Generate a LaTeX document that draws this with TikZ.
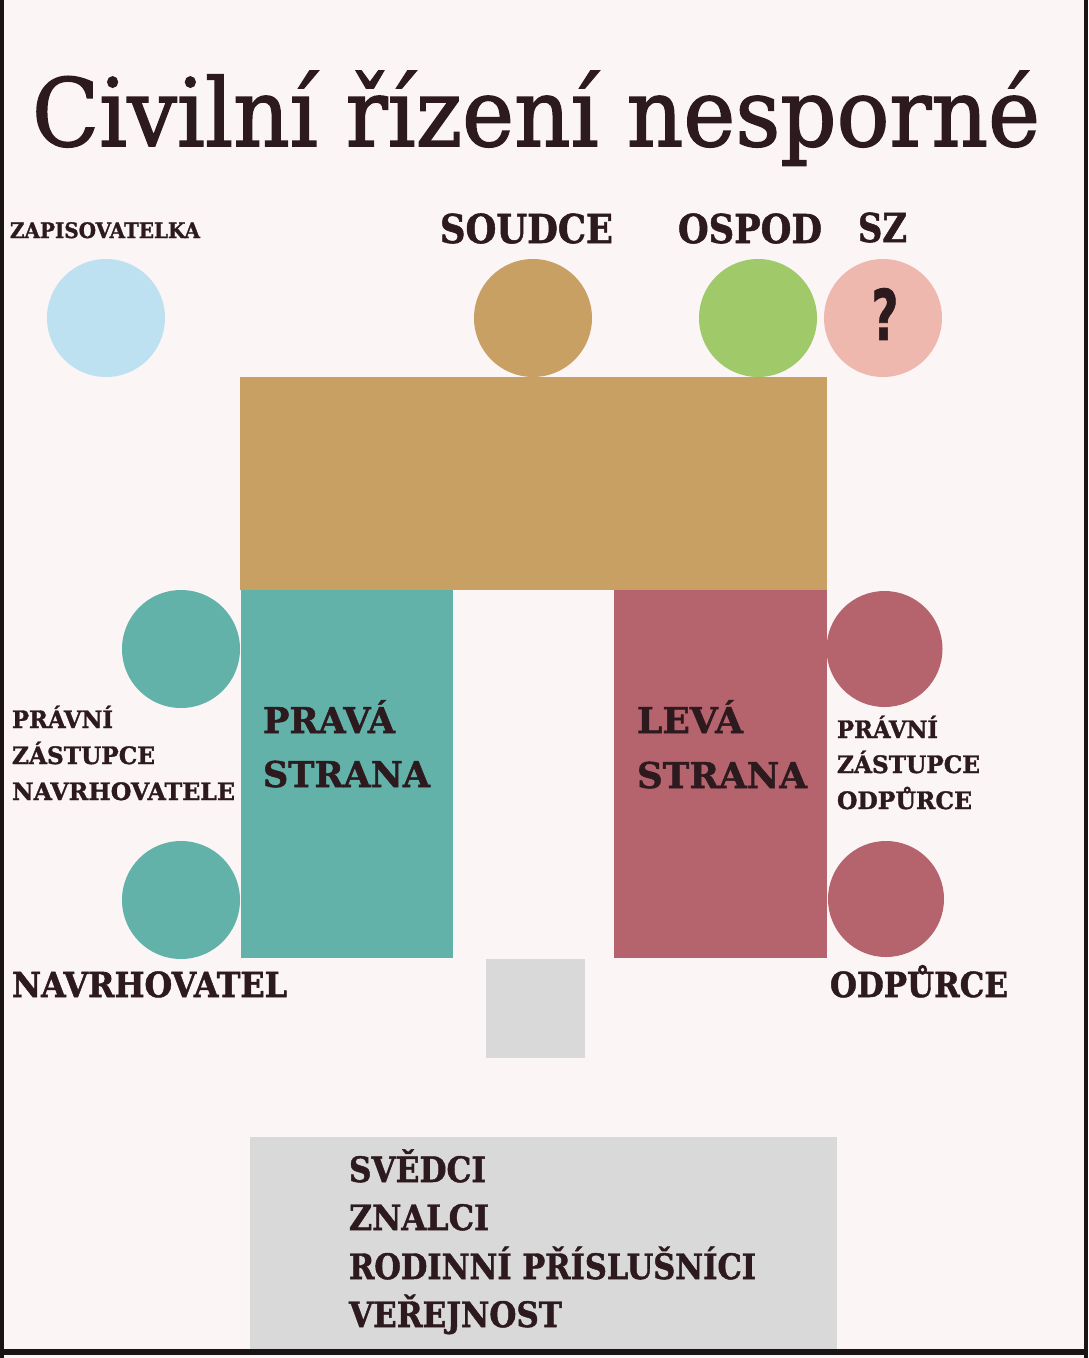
\documentclass[tikz,border=0pt]{standalone}
\usepackage{fontspec}
\setmainfont{DejaVu Serif}
\newfontfamily\titlefont[FakeBold=1.6]{DejaVu Serif}
\newfontfamily\labfont[FakeBold=1.4]{DejaVu Serif Bold}
\newfontfamily\qfont[FakeBold=1]{DejaVu Sans Bold}
\usepackage{graphicx}
\definecolor{bg}{HTML}{FBF5F6}
\definecolor{ink}{HTML}{2D1A1F}
\definecolor{lblue}{HTML}{BDE1F0}
\definecolor{tan}{HTML}{C8A064}
\definecolor{lgreen}{HTML}{A0C96A}
\definecolor{lpink}{HTML}{EFB8AE}
\definecolor{teal2}{HTML}{62B2A9}
\definecolor{wine}{HTML}{B5636C}
\definecolor{lgray}{HTML}{D9D9D9}
\definecolor{edgeink}{HTML}{1A1416}
\newcommand{\fitw}[2]{\resizebox{#1}{\height}{#2}}
\begin{document}
\begin{tikzpicture}[x=1pt,y=-1pt,
  seat/.style={circle, inner sep=0pt, outer sep=0pt, minimum size=118pt},
  block/.style={rectangle, inner sep=0pt, outer sep=0pt, anchor=north west},
  lbl/.style={anchor=base west, inner sep=0pt, outer sep=0pt, text=ink},
  tinylbl/.style={lbl, font=\labfont\fontsize{21.3}{26}\selectfont},
  smalllbl/.style={lbl, font=\labfont\fontsize{24}{30}\selectfont},
  midlbl/.style={lbl, font=\labfont\fontsize{39.8}{48}\selectfont},
  sidelbl/.style={lbl, font=\labfont\fontsize{35.5}{48}\selectfont},
  namelbl/.style={lbl, font=\labfont\fontsize{34.5}{42}\selectfont},
  listlbl/.style={lbl, font=\labfont\fontsize{35}{42}\selectfont}]
\useasboundingbox (0,0) rectangle (1088,1358);
\fill[bg] (0,0) rectangle (1088,1358);

% title
\node[lbl, font=\titlefont\fontsize{94}{110}\selectfont] (title) at (32,146) {\fitw{1008pt}{Civilní řízení nesporné}};

% top seats
\node[seat, fill=lblue] (zap) at (106,318) {};
\node[seat, fill=tan] (soudce) at (533,318) {};
\node[seat, fill=lgreen] (ospod) at (758,318) {};
\node[seat, fill=lpink] (sz) at (883,318) {};
\node[inner sep=0pt, text=ink, font=\qfont\fontsize{70}{70}\selectfont] (q) at (885,314) {\fitw{27pt}{?}};

% tables
\node[block, fill=tan, minimum width=587pt, minimum height=213pt] (stul) at (240,377) {};
\node[block, fill=teal2, minimum width=212pt, minimum height=368pt] (prava) at (241,590) {};
\node[block, fill=wine, minimum width=213pt, minimum height=368pt] (leva) at (614,590) {};
\node[block, fill=lgray, minimum width=99pt, minimum height=99pt] (pult) at (486,959) {};
\node[block, fill=lgray, minimum width=587pt, minimum height=213pt] (verejnost) at (250,1137) {};

% side seats
\node[seat, fill=teal2] (zastN) at (181,649) {};
\node[seat, fill=teal2] (navrh) at (181,900) {};
\node[seat, fill=wine, minimum size=116pt] (zastO) at (884.5,649) {};
\node[seat, fill=wine, minimum size=116pt] (odp) at (886,899) {};

% labels top
\node[tinylbl] (tZap) at (10,238) {\fitw{190pt}{ZAPISOVATELKA}};
\node[midlbl] (tSoudce) at (440,243) {\fitw{173pt}{SOUDCE}};
\node[midlbl] (tOspod) at (678,243) {\fitw{144pt}{OSPOD}};
\node[midlbl] (tSz) at (858,242) {\fitw{49pt}{SZ}};

% left labels
\node[smalllbl] (tPl1) at (12,728) {\fitw{101pt}{PRÁVNÍ}};
\node[smalllbl] (tPl2) at (12,764) {\fitw{143pt}{ZÁSTUPCE}};
\node[smalllbl] (tPl3) at (12,800) {\fitw{223pt}{NAVRHOVATELE}};
\node[sidelbl] (tPr1) at (263,733) {\fitw{132pt}{PRAVÁ}};
\node[sidelbl] (tPr2) at (263,787) {\fitw{167pt}{STRANA}};
\node[namelbl] (tNavrh) at (12,997) {\fitw{275pt}{NAVRHOVATEL}};

% right labels
\node[sidelbl] (tLe1) at (637,733) {\fitw{106pt}{LEVÁ}};
\node[sidelbl] (tLe2) at (637,788) {\fitw{170pt}{STRANA}};
\node[smalllbl] (tPo1) at (837,738) {\fitw{101pt}{PRÁVNÍ}};
\node[smalllbl] (tPo2) at (837,773) {\fitw{143pt}{ZÁSTUPCE}};
\node[smalllbl] (tPo3) at (837,809) {\fitw{135pt}{ODPŮRCE}};
\node[namelbl] (tOdp) at (830,997) {\fitw{178pt}{ODPŮRCE}};

% list
\node[listlbl] (l1) at (349,1182) {\fitw{137pt}{SVĚDCI}};
\node[listlbl] (l2) at (349,1230) {\fitw{140pt}{ZNALCI}};
\node[listlbl] (l3) at (349,1279) {\fitw{407pt}{RODINNÍ PŘÍSLUŠNÍCI}};
\node[listlbl] (l4) at (349,1327) {\fitw{213pt}{VEŘEJNOST}};

% frame
\fill[edgeink] (0,0) rectangle (4,1358);
\fill[edgeink] (1084,0) rectangle (1088,1358);
\fill[edgeink] (0,1349) rectangle (1088,1355);
\end{tikzpicture}
\end{document}
